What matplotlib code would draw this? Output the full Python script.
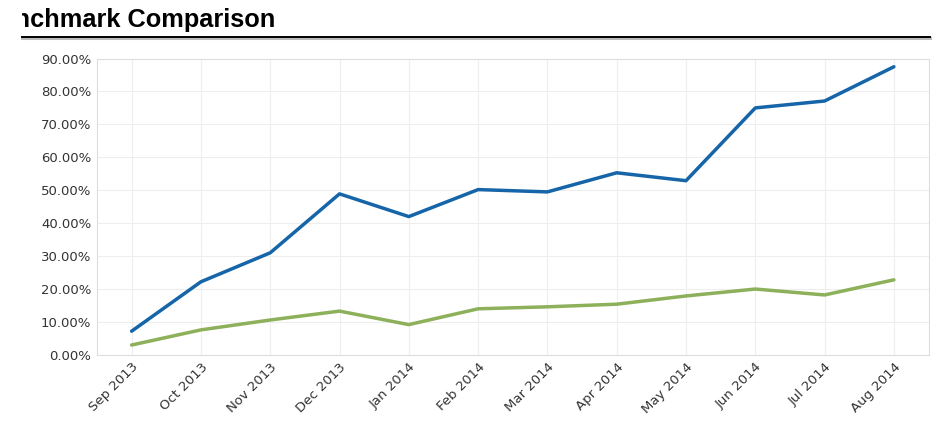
import matplotlib.pyplot as plt
from matplotlib.ticker import FuncFormatter
from matplotlib.lines import Line2D
from matplotlib.transforms import Bbox, TransformedBbox

months = ['Sep 2013', 'Oct 2013', 'Nov 2013', 'Dec 2013', 'Jan 2014', 'Feb 2014',
          'Mar 2014', 'Apr 2014', 'May 2014', 'Jun 2014', 'Jul 2014', 'Aug 2014']
portfolio = [7.2, 22.2, 31.0, 48.9, 42.0, 50.2, 49.5, 55.3, 52.9, 75.0, 77.1, 87.5]
benchmark = [3.0, 7.6, 10.6, 13.3, 9.2, 14.0, 14.6, 15.4, 17.9, 20.0, 18.2, 22.8]

fig = plt.figure(figsize=(9.45, 4.21), dpi=100)
ax = fig.add_axes([0.1026, 0.157, 0.880, 0.704])

x = range(len(months))
ax.plot(x, portfolio, color='#1565a8', lw=2.5, solid_capstyle='round')
ax.plot(x, benchmark, color='#8db05a', lw=2.5, solid_capstyle='round')

ax.set_xlim(-0.5, len(months) - 0.5)
ax.set_ylim(0, 90)
ax.set_yticks(range(0, 91, 10))
ax.yaxis.set_major_formatter(FuncFormatter(lambda v, p: f'{v:.2f}%'))
ax.set_xticks(list(x))
ax.set_xticklabels(months, rotation=45, ha='right', rotation_mode='anchor')
ax.tick_params(length=0, labelsize=9.5, labelcolor='#333333', pad=4)
ax.grid(color='#eeeeee', lw=0.8)
for s in ax.spines.values():
    s.set_color('#dddddd')
    s.set_linewidth(0.8)

# titre coupé à gauche comme sur l'original
title = fig.text(0.291, 0.952, 'Benchmark Comparison', fontsize=18.3, fontweight='bold',
                 family='Liberation Sans', va='center', ha='right')
title.set_clip_box(TransformedBbox(Bbox([[0.023, 0.0], [1.0, 1.0]]), fig.transFigure))
title.set_clip_on(True)

fig.add_artist(Line2D([0.023, 0.984], [0.9105, 0.9105], color='#bbbbbb', lw=2.2,
                      transform=fig.transFigure))
fig.add_artist(Line2D([0.023, 0.984], [0.9125, 0.9125], color='black', lw=1.4,
                      transform=fig.transFigure))

fig.savefig('out.png', dpi=100)
